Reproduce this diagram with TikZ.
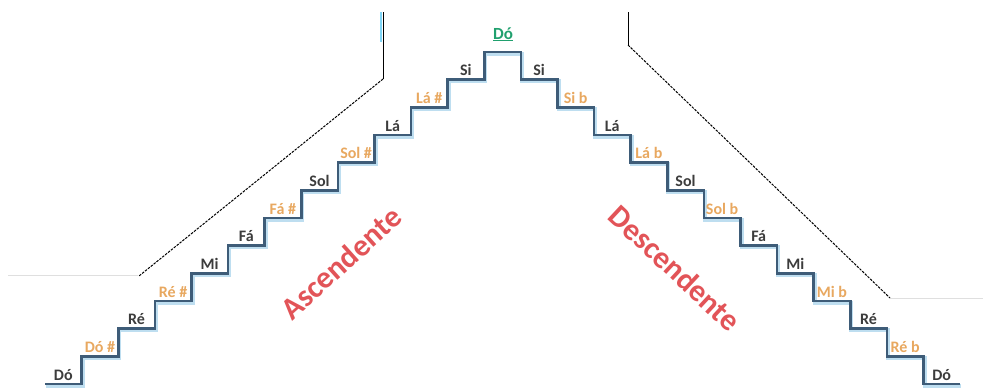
\documentclass[tikz,border=0pt]{standalone}
\usepackage{fontspec}
\setmainfont{Carlito}
\usepackage{tikz}

\definecolor{stairblue}{RGB}{62,92,120}
\definecolor{stairshade}{RGB}{190,222,240}
\definecolor{noteblack}{RGB}{60,60,60}
\definecolor{noteorange}{RGB}{232,168,96}
\definecolor{notegreen}{RGB}{32,160,110}
\definecolor{wordred}{RGB}{226,84,88}

\begin{document}
\begin{tikzpicture}[x=1pt, y=-1pt]
    \tikzstyle{note} = [font=\fontsize{16}{16}\selectfont\bfseries, inner sep=0pt, anchor=base]
    \tikzstyle{natural note} = [note, text=noteblack]
    \tikzstyle{altered note} = [note, text=noteorange]
    \tikzstyle{direction word} = [font=\fontsize{31}{31}\selectfont\bfseries, text=wordred, inner sep=0pt]
    \tikzstyle{stair line} = [draw=stairblue, line width=2.6pt, line join=miter,
        preaction={draw=stairshade, line width=4pt, transform canvas={shift={(1.2pt,-1.8pt)}}}]
    \tikzstyle{guide line} = [black, line width=1pt]
    \tikzstyle{guide dashed} = [guide line, dash pattern=on 2.5pt off 1.2pt]
\useasboundingbox (0,0) rectangle (983,389);
% outline lines
\draw[gray!25, line width=0.8pt] (8,275) -- (138,275);
\draw[gray!25, line width=0.8pt] (890,298) -- (983,298);
\draw[cyan!50, line width=2pt] (380.8,12) -- (380.8,42);
\draw[guide line] (383,12) -- (383,79);
\draw[guide dashed] (383,79) -- (139,276);
\draw[guide line] (628,12) -- (628,45);
\draw[guide dashed] (628,45) -- (890,298);
% stairs
\draw[stair line] (45,384) -| (81.6,356.33) -| (118.2,328.66) -| (154.8,300.99) -| (191.4,273.32)
    -| (228,245.65) -| (264.6,217.98) -| (301.2,190.31) -| (337.8,162.64) -| (374.4,134.97)
    -| (411,107.3) -| (447.6,79.63) -| (484.2,51.96) -- (520.8,51.96)
    |- (557.4,79.63) |- (594,107.3) |- (630.6,134.97) |- (667.2,162.64) |- (703.8,190.31)
    |- (740.4,217.98) |- (777,245.65) |- (813.6,273.32) |- (850.2,300.99) |- (886.8,328.66)
    |- (923.4,356.33) |- (960,384);
% ascending notes
\node[natural note] (do up) at (63.3, 380) {Dó};
\node[altered note] (dos) at (99.9, 352.3) {Dó \#};
\node[natural note] (re up) at (136.5, 324.7) {Ré};
\node[altered note] (res) at (173.1, 297) {Ré \#};
\node[natural note] (mi up) at (209.7, 269.3) {Mi};
\node[natural note] (fa up) at (246.3, 241.7) {Fá};
\node[altered note] (fas) at (282.9, 214) {Fá \#};
\node[natural note] (sol up) at (319.5, 186.3) {Sol};
\node[altered note] (sols) at (356.1, 158.6) {Sol \#};
\node[natural note] (la up) at (392.7, 131) {Lá};
\node[altered note] (las) at (429.3, 103.3) {Lá \#};
\node[natural note] (si up) at (465.9, 75.6) {Si};
% top
\node[note, text=notegreen, font=\fontsize{17}{17}\selectfont\bfseries] (do top) at (503, 39) {\underline{Dó}};
% descending notes
\node[natural note] (si down) at (539.1, 75.6) {Si};
\node[altered note] (sib) at (575.7, 103.3) {Si b};
\node[natural note] (la down) at (612.3, 131) {Lá};
\node[altered note] (lab) at (648.9, 158.6) {Lá b};
\node[natural note] (sol down) at (685.5, 186.3) {Sol};
\node[altered note] (solb) at (722.1, 214) {Sol b};
\node[natural note] (fa down) at (758.7, 241.7) {Fá};
\node[natural note] (mi down) at (795.3, 269.3) {Mi};
\node[altered note] (mib) at (831.9, 297) {Mi b};
\node[natural note] (re down) at (868.5, 324.7) {Ré};
\node[altered note] (reb) at (905.1, 352.3) {Ré b};
\node[natural note] (do down) at (941.7, 380) {Dó};
% direction words
\node[direction word, rotate=42] (ascend) at (341,263) {Ascendente};
\node[direction word, rotate=-43] (descend) at (675,268) {Descendente};
\end{tikzpicture}
\end{document}
